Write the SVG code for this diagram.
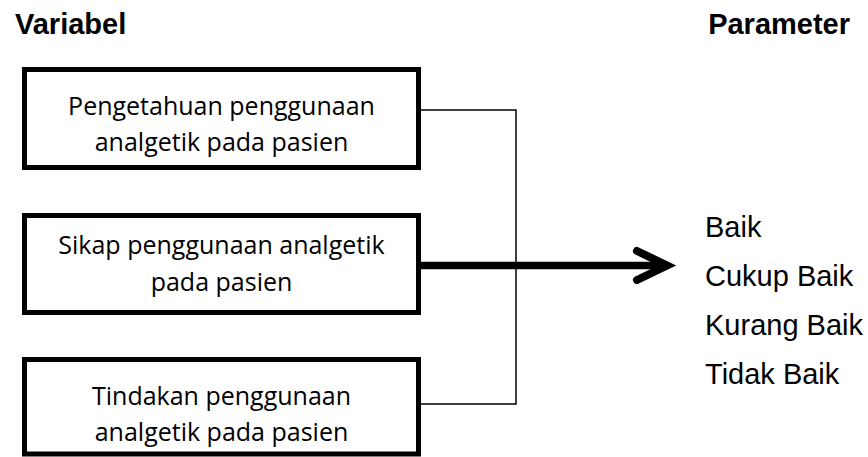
<svg xmlns="http://www.w3.org/2000/svg" width="868" height="457" viewBox="0 0 868 457">
  <style>
    .box { fill: #ffffff; stroke: #000000; stroke-width: 5; }
    .box-label { font-family: "Open Sans", "Noto Sans", sans-serif; font-size: 25px; fill: #000000; text-anchor: middle; }
    .heading { font-family: "Liberation Sans", Arial, sans-serif; font-size: 29px; font-weight: bold; fill: #000000; }
    .param { font-family: "Liberation Sans", Arial, sans-serif; font-size: 29px; fill: #000000; }
    .thin { fill: none; stroke: #000000; stroke-width: 1.5; }
    .thick { fill: none; stroke: #000000; stroke-width: 7.5; }
    .head { fill: none; stroke: #000000; stroke-width: 8; stroke-linecap: round; stroke-linejoin: miter; }
  </style>

  <!-- column headings -->
  <text class="heading" x="15" y="34">Variabel</text>
  <text class="heading" x="850" y="34" text-anchor="end">Parameter</text>

  <!-- connectors: two thin feeders joining the thick central arrow -->
  <g id="connectors">
    <polyline class="thin" points="421,110 516,110 516,404 421,404"/>
    <line class="thick" x1="421" y1="265.5" x2="666" y2="265.5"/>
    <polyline class="head" points="637,251 667,265.5 637,280"/>
  </g>

  <g id="node-pengetahuan">
    <rect class="box" x="24.5" y="69.5" width="394" height="98"/>
    <text class="box-label" x="221.5" y="115">Pengetahuan penggunaan</text>
    <text class="box-label" x="221.5" y="151">analgetik pada pasien</text>
  </g>

  <g id="node-sikap">
    <rect class="box" x="24.5" y="215.5" width="394" height="97"/>
    <text class="box-label" x="221.5" y="254">Sikap penggunaan analgetik</text>
    <text class="box-label" x="221.5" y="291">pada pasien</text>
  </g>

  <g id="node-tindakan">
    <rect class="box" x="24.5" y="359.5" width="394" height="94.5"/>
    <text class="box-label" x="221.5" y="405">Tindakan penggunaan</text>
    <text class="box-label" x="221.5" y="441">analgetik pada pasien</text>
  </g>

  <!-- parameter values -->
  <g id="parameters">
    <text class="param" x="705" y="237">Baik</text>
    <text class="param" x="705" y="286">Cukup Baik</text>
    <text class="param" x="705" y="335">Kurang Baik</text>
    <text class="param" x="705" y="384">Tidak Baik</text>
  </g>
</svg>
